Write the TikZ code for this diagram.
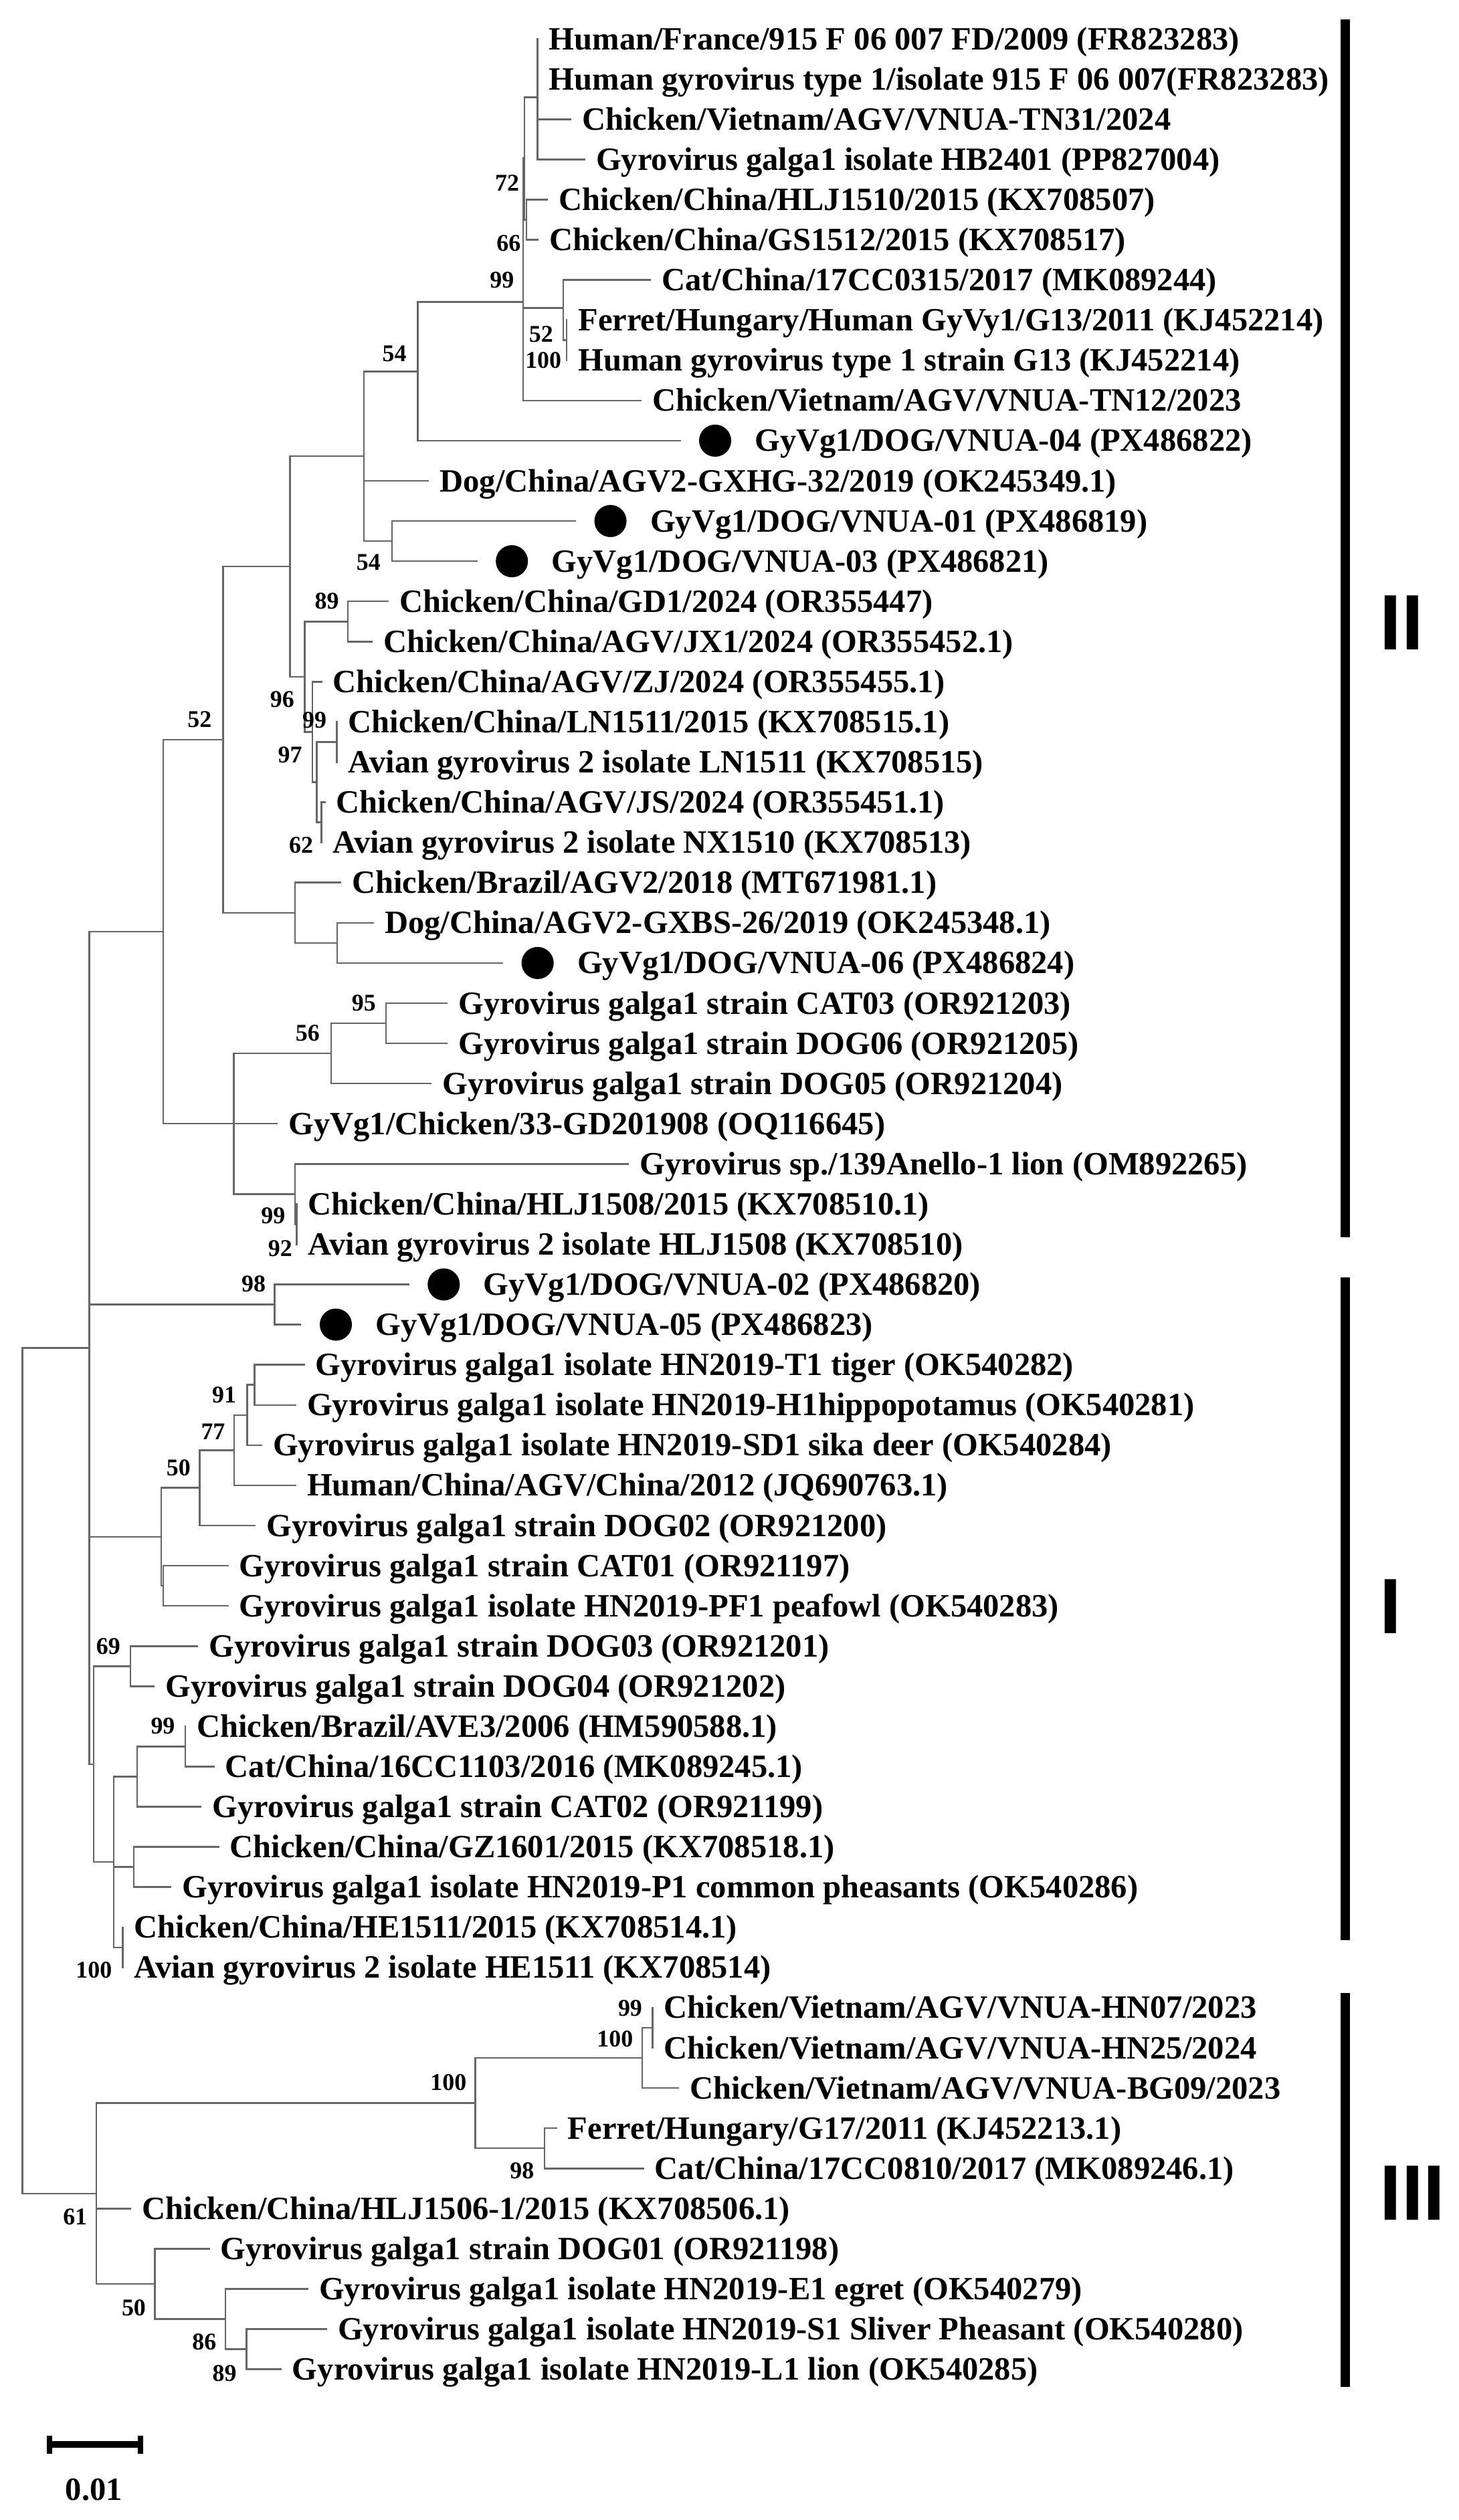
\documentclass[tikz,border=0pt]{standalone}
\usepackage{fontspec}
\setmainfont{Liberation Serif}
\newfontfamily\romansans{Liberation Sans}
\newcommand\leaffont{\fontsize{11.5}{13}\selectfont\bfseries}
\newcommand\bsfont{\fontsize{8.5}{10}\selectfont\bfseries}
\newcommand\romanfont{\romansans\fontsize{27.8}{30}\selectfont\bfseries}

\begin{document}
\begin{tikzpicture}[x=0.02cm, y=-0.5cm,
  br/.style={draw=black!60, line width=0.6pt, line cap=rect},
  lab/.style={anchor=base west, inner sep=0pt, xshift=3.9pt, yshift=-3.8pt, font=\leaffont},
  dlab/.style={anchor=base west, inner sep=0pt, xshift=26.4pt, yshift=-3.8pt, font=\leaffont},
  vdot/.style={circle, fill=black, inner sep=0pt, minimum size=0.4cm, xshift=12.5pt},
  bs/.style={inner sep=0pt, font=\bsfont},
  clade/.style={line width=3.1pt},
  roman/.style={anchor=west, inner sep=0pt, font=\romanfont}]
\useasboundingbox[fill=white] (0,0.032) rectangle (907,62.752);

% leaves, clade II
\coordinate (l1) at (334.3,1);
\node[lab] (t1) at (l1) {Human/France/915 F 06 007 FD/2009 (FR823283)};
\coordinate (l2) at (334.3,2);
\node[lab] (t2) at (l2) {Human gyrovirus type 1/isolate 915 F 06 007(FR823283)};
\coordinate (l3) at (354.8,3);
\node[lab] (t3) at (l3) {Chicken/Vietnam/AGV/VNUA-TN31/2024};
\coordinate (l4) at (363.5,4);
\node[lab] (t4) at (l4) {Gyrovirus galga1 isolate HB2401 (PP827004)};
\coordinate (l5) at (340.2,5);
\node[lab] (t5) at (l5) {Chicken/China/HLJ1510/2015 (KX708507)};
\coordinate (l6) at (334.4,6);
\node[lab] (t6) at (l6) {Chicken/China/GS1512/2015 (KX708517)};
\coordinate (l7) at (404.4,7);
\node[lab] (t7) at (l7) {Cat/China/17CC0315/2017 (MK089244)};
\coordinate (l8) at (352.4,8);
\node[lab] (t8) at (l8) {Ferret/Hungary/Human GyVy1/G13/2011 (KJ452214)};
\coordinate (l9) at (352.4,9);
\node[lab] (t9) at (l9) {Human gyrovirus type 1 strain G13 (KJ452214)};
\coordinate (l10) at (398.6,10);
\node[lab] (t10) at (l10) {Chicken/Vietnam/AGV/VNUA-TN12/2023};
\coordinate (l11) at (422.8,11);
\node[vdot] (d11) at (l11) {};
\node[dlab] (t11) at (l11) {GyVg1/DOG/VNUA-04 (PX486822)};
\coordinate (l12) at (266.3,12);
\node[lab] (t12) at (l12) {Dog/China/AGV2-GXHG-32/2019 (OK245349.1)};
\coordinate (l13) at (357.7,13);
\node[vdot] (d13) at (l13) {};
\node[dlab] (t13) at (l13) {GyVg1/DOG/VNUA-01 (PX486819)};
\coordinate (l14) at (296.4,14);
\node[vdot] (d14) at (l14) {};
\node[dlab] (t14) at (l14) {GyVg1/DOG/VNUA-03 (PX486821)};
\coordinate (l15) at (241.3,15);
\node[lab] (t15) at (l15) {Chicken/China/GD1/2024 (OR355447)};
\coordinate (l16) at (231.3,16);
\node[lab] (t16) at (l16) {Chicken/China/AGV/JX1/2024 (OR355452.1)};
\coordinate (l17) at (199.8,17);
\node[lab] (t17) at (l17) {Chicken/China/AGV/ZJ/2024 (OR355455.1)};
\coordinate (l18) at (209.5,18);
\node[lab] (t18) at (l18) {Chicken/China/LN1511/2015 (KX708515.1)};
\coordinate (l19) at (209.5,19);
\node[lab] (t19) at (l19) {Avian gyrovirus 2 isolate LN1511 (KX708515)};
\coordinate (l20) at (201.9,20);
\node[lab] (t20) at (l20) {Chicken/China/AGV/JS/2024 (OR355451.1)};
\coordinate (l21) at (199.8,21);
\node[lab] (t21) at (l21) {Avian gyrovirus 2 isolate NX1510 (KX708513)};
\coordinate (l22) at (211.7,22);
\node[lab] (t22) at (l22) {Chicken/Brazil/AGV2/2018 (MT671981.1)};
\coordinate (l23) at (232.1,23);
\node[lab] (t23) at (l23) {Dog/China/AGV2-GXBS-26/2019 (OK245348.1)};
\coordinate (l24) at (312.4,24);
\node[vdot] (d24) at (l24) {};
\node[dlab] (t24) at (l24) {GyVg1/DOG/VNUA-06 (PX486824)};
\coordinate (l25) at (278,25);
\node[lab] (t25) at (l25) {Gyrovirus galga1 strain CAT03 (OR921203)};
\coordinate (l26) at (278,26);
\node[lab] (t26) at (l26) {Gyrovirus galga1 strain DOG06 (OR921205)};
\coordinate (l27) at (268,27);
\node[lab] (t27) at (l27) {Gyrovirus galga1 strain DOG05 (OR921204)};
\coordinate (l28) at (172.3,28);
\node[lab] (t28) at (l28) {GyVg1/Chicken/33-GD201908 (OQ116645)};
\coordinate (l29) at (390.7,29);
\node[lab] (t29) at (l29) {Gyrovirus sp./139Anello-1 lion (OM892265)};
\coordinate (l30) at (184.5,30);
\node[lab] (t30) at (l30) {Chicken/China/HLJ1508/2015 (KX708510.1)};
\coordinate (l31) at (184.5,31);
\node[lab] (t31) at (l31) {Avian gyrovirus 2 isolate HLJ1508 (KX708510)};

% leaves, clade I
\coordinate (l32) at (254,32);
\node[vdot] (d32) at (l32) {};
\node[dlab] (t32) at (l32) {GyVg1/DOG/VNUA-02 (PX486820)};
\coordinate (l33) at (186.9,33);
\node[vdot] (d33) at (l33) {};
\node[dlab] (t33) at (l33) {GyVg1/DOG/VNUA-05 (PX486823)};
\coordinate (l34) at (189,34);
\node[lab] (t34) at (l34) {Gyrovirus galga1 isolate HN2019-T1 tiger (OK540282)};
\coordinate (l35) at (183.8,35);
\node[lab] (t35) at (l35) {Gyrovirus galga1 isolate HN2019-H1hippopotamus (OK540281)};
\coordinate (l36) at (162.6,36);
\node[lab] (t36) at (l36) {Gyrovirus galga1 isolate HN2019-SD1 sika deer (OK540284)};
\coordinate (l37) at (183.8,37);
\node[lab] (t37) at (l37) {Human/China/AGV/China/2012 (JQ690763.1)};
\coordinate (l38) at (158.6,38);
\node[lab] (t38) at (l38) {Gyrovirus galga1 strain DOG02 (OR921200)};
\coordinate (l39) at (141.6,39);
\node[lab] (t39) at (l39) {Gyrovirus galga1 strain CAT01 (OR921197)};
\coordinate (l40) at (141.6,40);
\node[lab] (t40) at (l40) {Gyrovirus galga1 isolate HN2019-PF1 peafowl (OK540283)};
\coordinate (l41) at (122.8,41);
\node[lab] (t41) at (l41) {Gyrovirus galga1 strain DOG03 (OR921201)};
\coordinate (l42) at (95.7,42);
\node[lab] (t42) at (l42) {Gyrovirus galga1 strain DOG04 (OR921202)};
\coordinate (l43) at (115.2,43);
\node[lab] (t43) at (l43) {Chicken/Brazil/AVE3/2006 (HM590588.1)};
\coordinate (l44) at (132.9,44);
\node[lab] (t44) at (l44) {Cat/China/16CC1103/2016 (MK089245.1)};
\coordinate (l45) at (124.9,45);
\node[lab] (t45) at (l45) {Gyrovirus galga1 strain CAT02 (OR921199)};
\coordinate (l46) at (135.8,46);
\node[lab] (t46) at (l46) {Chicken/China/GZ1601/2015 (KX708518.1)};
\coordinate (l47) at (106.1,47);
\node[lab] (t47) at (l47) {Gyrovirus galga1 isolate HN2019-P1 common pheasants (OK540286)};
\coordinate (l48) at (76.3,48);
\node[lab] (t48) at (l48) {Chicken/China/HE1511/2015 (KX708514.1)};
\coordinate (l49) at (76.3,49);
\node[lab] (t49) at (l49) {Avian gyrovirus 2 isolate HE1511 (KX708514)};

% leaves, clade III
\coordinate (l50) at (405.9,50);
\node[lab] (t50) at (l50) {Chicken/Vietnam/AGV/VNUA-HN07/2023};
\coordinate (l51) at (405.9,51);
\node[lab] (t51) at (l51) {Chicken/Vietnam/AGV/VNUA-HN25/2024};
\coordinate (l52) at (421.9,52);
\node[lab] (t52) at (l52) {Chicken/Vietnam/AGV/VNUA-BG09/2023};
\coordinate (l53) at (346,53);
\node[lab] (t53) at (l53) {Ferret/Hungary/G17/2011 (KJ452213.1)};
\coordinate (l54) at (400,54);
\node[lab] (t54) at (l54) {Cat/China/17CC0810/2017 (MK089246.1)};
\coordinate (l55) at (81.2,55);
\node[lab] (t55) at (l55) {Chicken/China/HLJ1506-1/2015 (KX708506.1)};
\coordinate (l56) at (130,56);
\node[lab] (t56) at (l56) {Gyrovirus galga1 strain DOG01 (OR921198)};
\coordinate (l57) at (191.3,57);
\node[lab] (t57) at (l57) {Gyrovirus galga1 isolate HN2019-E1 egret (OK540279)};
\coordinate (l58) at (202.9,58);
\node[lab] (t58) at (l58) {Gyrovirus galga1 isolate HN2019-S1 Sliver Pheasant (OK540280)};
\coordinate (l59) at (174.6,59);
\node[lab] (t59) at (l59) {Gyrovirus galga1 isolate HN2019-L1 lion (OK540285)};

% internal nodes
\coordinate (R) at (13.9,44.1);
\coordinate (U) at (55.5,33.58);
\coordinate (nII) at (101.6,23.22);
\coordinate (n52) at (138.7,18.44);
\coordinate (n96) at (180.4,14.13);
\coordinate (nX) at (226.3,11.385);
\coordinate (n54) at (259.9,9.275);
\coordinate (n99) at (325.4,7.55);
\coordinate (n72) at (326.2,3.97);
\coordinate (nA) at (334.3,2.45);
\coordinate (n66) at (327.5,5.5);
\coordinate (n52t) at (350.3,7.7);
\coordinate (n100t) at (352.4,8.5);
\coordinate (n54b) at (243.8,13.5);
\coordinate (nB) at (189.4,16.875);
\coordinate (n89) at (216.4,15.5);
\coordinate (nC) at (194.2,18.25);
\coordinate (n97) at (197.0,19.5);
\coordinate (n99p) at (209.5,18.5);
\coordinate (n62) at (199.8,20.5);
\coordinate (nBr) at (183.4,22.75);
\coordinate (nSub) at (209.7,23.5);
\coordinate (n56p) at (145.4,28.0);
\coordinate (n56) at (205.9,26.25);
\coordinate (n95) at (240,25.5);
\coordinate (n99c) at (183.4,29.75);
\coordinate (n92) at (184.5,30.5);
\coordinate (n98) at (170.8,32.5);
\coordinate (n50) at (100.2,38.28);
\coordinate (n77) at (124.1,37.06);
\coordinate (n91) at (145.7,36.125);
\coordinate (nD) at (153.7,35.25);
\coordinate (nE) at (158.2,34.5);
\coordinate (nCp) at (101.5,39.5);
\coordinate (nL) at (58.3,43.94);
\coordinate (n69) at (81.2,41.5);
\coordinate (nX2) at (70.8,46.375);
\coordinate (n99d) at (85.3,44.25);
\coordinate (n99q) at (115.2,43.5);
\coordinate (nGZ) at (83.2,46.5);
\coordinate (n100h) at (76.3,48.5);
\coordinate (n61) at (59.9,54.625);
\coordinate (n100b) at (295.5,52.375);
\coordinate (n100c) at (399.5,51.25);
\coordinate (n99e) at (405.9,50.5);
\coordinate (n98b) at (338.7,53.5);
\coordinate (n50b) at (96.4,56.875);
\coordinate (n86) at (140.2,57.75);
\coordinate (n89b) at (153.3,58.5);

% branches
\draw[br] (R) |- (U) (R) |- (n61);
\draw[br] (U) |- (nII) (U) |- (n98) (U) |- (n50) (U) |- (nL);
\draw[br] (nII) |- (n52) (nII) |- (n56p);
\draw[br] (n52) |- (n96) (n52) |- (nBr);
\draw[br] (n96) |- (nX) (n96) |- (nB);
\draw[br] (nX) |- (n54) (nX) |- (l12) (nX) |- (n54b);
\draw[br] (n54) |- (n99) (n54) |- (l11);
\draw[br] (n99) |- (n72) (n99) |- (n52t) (n99) |- (l10);
\draw[br] (n72) |- (nA) (n72) |- (n66);
\draw[br] (nA) |- (l1) (nA) |- (l2) (nA) |- (l3) (nA) |- (l4);
\draw[br] (n66) |- (l5) (n66) |- (l6);
\draw[br] (n52t) |- (l7) (n52t) |- (n100t);
\draw[br] (n100t) |- (l8) (n100t) |- (l9);
\draw[br] (n54b) |- (l13) (n54b) |- (l14);
\draw[br] (nB) |- (n89) (nB) |- (nC);
\draw[br] (n89) |- (l15) (n89) |- (l16);
\draw[br] (nC) |- (l17) (nC) |- (n97);
\draw[br] (n97) |- (n99p) (n97) |- (n62);
\draw[br] (n99p) |- (l18) (n99p) |- (l19);
\draw[br] (n62) |- (l20) (n62) |- (l21);
\draw[br] (nBr) |- (l22) (nBr) |- (nSub);
\draw[br] (nSub) |- (l23) (nSub) |- (l24);
\draw[br] (n56p) |- (n56) (n56p) |- (l28) (n56p) |- (n99c);
\draw[br] (n56) |- (n95) (n56) |- (l27);
\draw[br] (n95) |- (l25) (n95) |- (l26);
\draw[br] (n99c) |- (l29) (n99c) |- (n92);
\draw[br] (n92) |- (l30) (n92) |- (l31);
\draw[br] (n98) |- (l32) (n98) |- (l33);
\draw[br] (n50) |- (n77) (n50) |- (nCp);
\draw[br] (n77) |- (n91) (n77) |- (l38);
\draw[br] (n91) |- (nD) (n91) |- (l37);
\draw[br] (nD) |- (nE) (nD) |- (l36);
\draw[br] (nE) |- (l34) (nE) |- (l35);
\draw[br] (nCp) |- (l39) (nCp) |- (l40);
\draw[br] (nL) |- (n69) (nL) |- (nX2);
\draw[br] (n69) |- (l41) (n69) |- (l42);
\draw[br] (nX2) |- (n99d) (nX2) |- (nGZ) (nX2) |- (n100h);
\draw[br] (n99d) |- (n99q) (n99d) |- (l45);
\draw[br] (n99q) |- (l43) (n99q) |- (l44);
\draw[br] (nGZ) |- (l46) (nGZ) |- (l47);
\draw[br] (n100h) |- (l48) (n100h) |- (l49);
\draw[br] (n61) |- (n100b) (n61) |- (l55) (n61) |- (n50b);
\draw[br] (n100b) |- (n100c) (n100b) |- (n98b);
\draw[br] (n100c) |- (n99e) (n100c) |- (l52);
\draw[br] (n99e) |- (l50) (n99e) |- (l51);
\draw[br] (n98b) |- (l53) (n98b) |- (l54);
\draw[br] (n50b) |- (l56) (n50b) |- (n86);
\draw[br] (n86) |- (l57) (n86) |- (n89b);
\draw[br] (n89b) |- (l58) (n89b) |- (l59);

% bootstrap values
\node[bs] (b1) at (315.4,4.588) {72};
\node[bs] (b2) at (316.3,6.08) {66};
\node[bs] (b3) at (312.2,6.996) {99};
\node[bs] (b4) at (336.5,8.356) {52};
\node[bs] (b5) at (337.9,8.996) {100};
\node[bs] (b6) at (245.3,8.832) {54};
\node[bs] (b7) at (229.2,14.036) {54};
\node[bs] (b8) at (203.3,14.988) {89};
\node[bs] (b9) at (175.5,17.432) {96};
\node[bs] (b10) at (195.6,17.96) {99};
\node[bs] (b11) at (180.4,18.816) {97};
\node[bs] (b12) at (187.3,21.064) {62};
\node[bs] (b13) at (124.1,17.936) {52};
\node[bs] (b14) at (226.3,25.004) {95};
\node[bs] (b15) at (191.3,25.748) {56};
\node[bs] (b16) at (169.9,30.284) {99};
\node[bs] (b17) at (174.3,31.1) {92};
\node[bs] (b18) at (157.7,31.992) {98};
\node[bs] (b19) at (139.4,34.744) {91};
\node[bs] (b20) at (132.5,35.66) {77};
\node[bs] (b21) at (111,36.572) {50};
\node[bs] (b22) at (67.3,41.016) {69};
\node[bs] (b23) at (101.3,42.988) {99};
\node[bs] (b24) at (58.4,49.064) {100};
\node[bs] (b25) at (391.9,50.008) {99};
\node[bs] (b26) at (382.5,50.776) {100};
\node[bs] (b27) at (278.9,51.868) {100};
\node[bs] (b28) at (324.7,54.064) {98};
\node[bs] (b29) at (46.7,55.208) {61};
\node[bs] (b30) at (83.2,57.472) {50};
\node[bs] (b31) at (127,58.312) {86};
\node[bs] (b32) at (139.6,59.096) {89};

% clade bars
\draw[clade] (836.65,0.512) -- (836.65,30.832);
\node[roman] (cII) at (857.8,15.532) {II};
\draw[clade] (836.65,31.832) -- (836.65,48.312);
\node[roman] (cI) at (857.8,40.012) {I};
\draw[clade] (836.65,49.632) -- (836.65,59.432);
\node[roman] (cIII) at (857.8,54.612) {III};

% scale bar
\draw[line width=2.4pt] (30.9,60.872) -- (87.4,60.872);
\draw[line width=2pt] (30.9,60.652) -- (30.9,61.104);
\draw[line width=2pt] (87.4,60.652) -- (87.4,61.104);
\node[inner sep=0pt, font=\leaffont] (scale) at (58.4,61.992) {0.01};
\end{tikzpicture}
\end{document}
